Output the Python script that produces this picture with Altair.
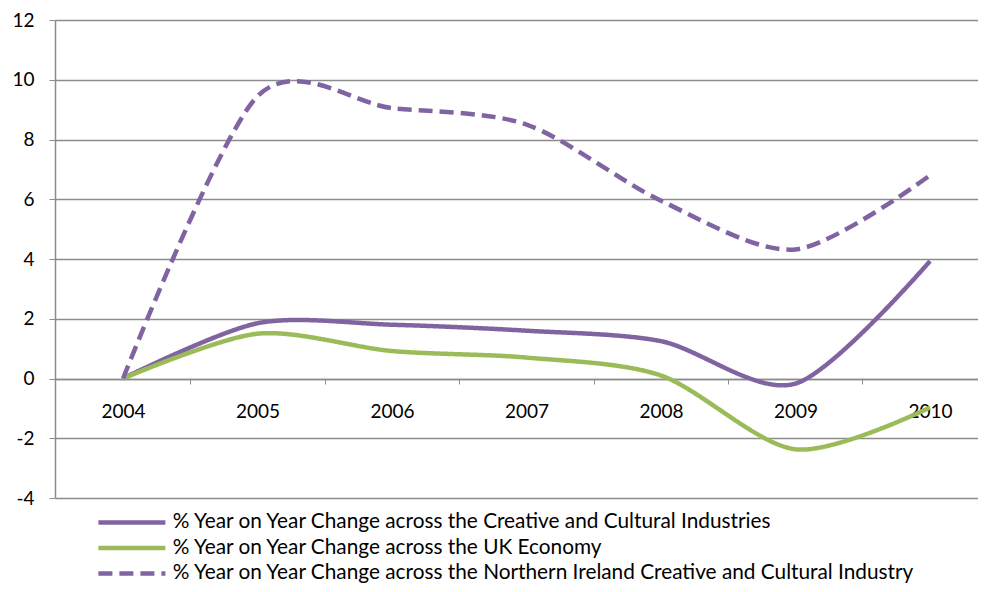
import altair as alt
import pandas as pd

years = [2004, 2005, 2006, 2007, 2008, 2009, 2010]
series_names = [
    "% Year on Year Change across the Creative and Cultural Industries",
    "% Year on Year Change across the UK Economy",
    "% Year on Year Change across the Northern Ireland Creative and Cultural Industry",
]
creative = [0.0, 1.85, 1.8, 1.6, 1.25, -0.17, 3.93]
uk_economy = [0.0, 1.5, 0.92, 0.7, 0.1, -2.37, -0.97]
ni_creative = [0.0, 9.45, 9.05, 8.5, 5.95, 4.32, 6.8]

rows = []
for name, vals in zip(series_names, [creative, uk_economy, ni_creative]):
    for yr, v in zip(years, vals):
        rows.append({"year": yr, "value": v, "series": name})
df = pd.DataFrame(rows)

FONT = "Lato"
GRID = "#8c8c8c"

legend_opts = dict(
    orient="none",
    legendX=95,
    legendY=492,
    direction="vertical",
    title=None,
    padding=0,
    symbolType="M-12.4,0H1",
    symbolSize=100,
    symbolStrokeWidth=4.5,
    labelFont=FONT,
    labelFontSize=20.8,
    labelColor="black",
    labelLimit=1200,
    labelOffset=2,
    rowPadding=3.5,
)

chart = (
    alt.Chart(df)
    .mark_line(interpolate="cardinal", tension=0.15, strokeWidth=4.5, strokeCap="butt")
    .encode(
        x=alt.X(
            "year:Q",
            scale=alt.Scale(domain=[2003.494, 2010.357], nice=False, zero=False),
            axis=alt.Axis(
                values=years,
                format="d",
                title=None,
                grid=False,
                offset=-119,
                tickOffset=67,
                labelOffset=-67,
                tickSize=5,
                tickColor=GRID,
                domainColor=GRID,
                domainWidth=1.5,
                labelPadding=18,
                labelFont=FONT,
                labelFontSize=19,
                labelColor="black",
            ),
        ),
        y=alt.Y(
            "value:Q",
            scale=alt.Scale(domain=[-4, 12], nice=False),
            axis=alt.Axis(
                values=[-4, -2, 0, 2, 4, 6, 8, 10, 12],
                labelExpr="'' + datum.value",
                title=None,
                grid=True,
                gridColor=GRID,
                gridWidth=1.3,
                gridOpacity=1,
                domainColor=GRID,
                domainWidth=1.5,
                tickColor=GRID,
                tickSize=6,
                labelPadding=15,
                labelFont=FONT,
                labelFontSize=19,
                labelColor="black",
            ),
        ),
        color=alt.Color(
            "series:N",
            scale=alt.Scale(domain=series_names, range=["#8064A2", "#9BBB59", "#8064A2"]),
            legend=alt.Legend(**legend_opts),
        ),
        strokeDash=alt.StrokeDash(
            "series:N",
            scale=alt.Scale(domain=series_names, range=[[1, 0], [1, 0], [14, 7]]),
            legend=alt.Legend(**legend_opts),
        ),
    )
    .properties(
        width=923,
        height=478,
        autosize=alt.AutoSizeParams(type="none"),
        padding={"left": 47, "top": 12, "right": 0, "bottom": 86},
    )
    .configure_view(stroke=None)
    .configure_legend(offset=0)
)

chart.save("out.html", embed_options={"renderer": "svg", "actions": False})
